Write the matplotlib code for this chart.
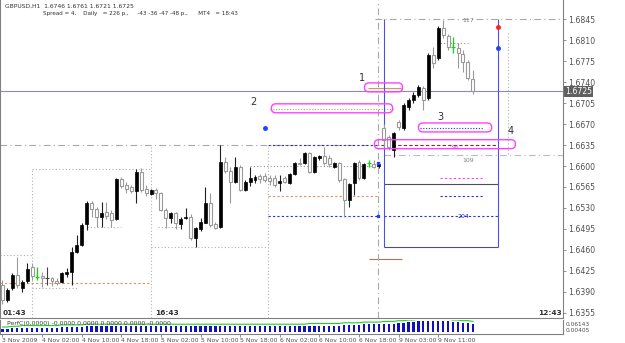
import numpy as np
import matplotlib.pyplot as plt
from matplotlib.patches import FancyBboxPatch
from matplotlib.transforms import IdentityTransform

# GBPUSD H1 bars, 3 Nov 2009 18:00 .. 9 Nov 2009 13:00
opens = [1.6401, 1.6376, 1.6396, 1.6418, 1.6396, 1.6408, 1.6431, 1.6414, 1.6416, 1.6413,
         1.6413, 1.6408, 1.6406, 1.6419, 1.6423, 1.6456, 1.6468, 1.6503, 1.6538, 1.6528,
         1.6515, 1.6523, 1.6521, 1.6511, 1.6578, 1.6568, 1.6565, 1.6558, 1.6590, 1.6562,
         1.6553, 1.6560, 1.6555, 1.6526, 1.6513, 1.6521, 1.6503, 1.6513, 1.6515, 1.6480,
         1.6495, 1.6505, 1.6538, 1.6503, 1.6498, 1.6607, 1.6592, 1.6573, 1.6598, 1.6560,
         1.6573, 1.6577, 1.6583, 1.6583, 1.6580, 1.6580, 1.6572, 1.6580, 1.6572, 1.6587,
         1.6605, 1.6605, 1.6622, 1.6590, 1.6613, 1.6617, 1.6613, 1.6598, 1.6605, 1.6578,
         1.6543, 1.6572, 1.6607, 1.6580, 1.6605, 1.6603, 1.6600, 1.6664, 1.6649, 1.6627,
         1.6674, 1.6664, 1.6699, 1.6710, 1.6719, 1.6730, 1.6714, 1.6786, 1.6781, 1.6831,
         1.6817, 1.6799, 1.6797, 1.6787, 1.6774, 1.6746]
highs = [1.6409, 1.6396, 1.6421, 1.6448, 1.6409, 1.6438, 1.6438, 1.6431, 1.6423, 1.6431,
         1.6414, 1.6413, 1.6423, 1.6430, 1.6465, 1.6485, 1.6505, 1.6542, 1.6542, 1.6532,
         1.6540, 1.6540, 1.6526, 1.6580, 1.6582, 1.6573, 1.6568, 1.6595, 1.6597, 1.6568,
         1.6562, 1.6563, 1.6557, 1.6530, 1.6523, 1.6523, 1.6515, 1.6530, 1.6520, 1.6498,
         1.6513, 1.6565, 1.6555, 1.6506, 1.6635, 1.6615, 1.6598, 1.6615, 1.6602, 1.6577,
         1.6598, 1.6585, 1.6587, 1.6588, 1.6585, 1.6585, 1.6585, 1.6583, 1.6588, 1.6607,
         1.6613, 1.6623, 1.6623, 1.6617, 1.6618, 1.6632, 1.6618, 1.6607, 1.6607, 1.6580,
         1.6572, 1.6607, 1.6610, 1.6605, 1.6610, 1.6610, 1.6607, 1.6670, 1.6652, 1.6657,
         1.6677, 1.6705, 1.6714, 1.6724, 1.6736, 1.6734, 1.6789, 1.6799, 1.6834, 1.6844,
         1.6821, 1.6816, 1.6806, 1.6794, 1.6777, 1.6761]
lows = [1.6369, 1.6373, 1.6393, 1.6396, 1.6389, 1.6404, 1.6409, 1.6409, 1.6398, 1.6401,
        1.6399, 1.6401, 1.6404, 1.6414, 1.6401, 1.6455, 1.6466, 1.6493, 1.6515, 1.6498,
        1.6498, 1.6511, 1.6498, 1.6510, 1.6563, 1.6555, 1.6555, 1.6538, 1.6557, 1.6550,
        1.6552, 1.6545, 1.6525, 1.6496, 1.6505, 1.6495, 1.6495, 1.6511, 1.6476, 1.6465,
        1.6491, 1.6505, 1.6498, 1.6495, 1.6496, 1.6588, 1.6538, 1.6572, 1.6558, 1.6558,
        1.6567, 1.6572, 1.6572, 1.6573, 1.6568, 1.6565, 1.6558, 1.6572, 1.6570, 1.6585,
        1.6602, 1.6603, 1.6588, 1.6588, 1.6610, 1.6602, 1.6598, 1.6597, 1.6573, 1.6515,
        1.6532, 1.6552, 1.6577, 1.6578, 1.6598, 1.6597, 1.6597, 1.6632, 1.6627, 1.6615,
        1.6660, 1.6660, 1.6694, 1.6705, 1.6715, 1.6694, 1.6710, 1.6764, 1.6777, 1.6814,
        1.6794, 1.6789, 1.6764, 1.6757, 1.6744, 1.6721]
closes = [1.6376, 1.6393, 1.6418, 1.6401, 1.6406, 1.6428, 1.6416, 1.6414, 1.6413, 1.6413,
          1.6408, 1.6404, 1.6421, 1.6423, 1.6456, 1.6468, 1.6501, 1.6538, 1.6528, 1.6515,
          1.6521, 1.6516, 1.6510, 1.6578, 1.6567, 1.6562, 1.6558, 1.6590, 1.6560, 1.6555,
          1.6560, 1.6555, 1.6526, 1.6513, 1.6521, 1.6505, 1.6511, 1.6515, 1.6480, 1.6496,
          1.6506, 1.6538, 1.6501, 1.6496, 1.6607, 1.6592, 1.6573, 1.6598, 1.6560, 1.6573,
          1.6580, 1.6582, 1.6578, 1.6577, 1.6575, 1.6568, 1.6575, 1.6573, 1.6587, 1.6605,
          1.6603, 1.6622, 1.6590, 1.6615, 1.6617, 1.6605, 1.6603, 1.6605, 1.6577, 1.6543,
          1.6570, 1.6605, 1.6580, 1.6603, 1.6605, 1.6598, 1.6603, 1.6643, 1.6632, 1.6655,
          1.6665, 1.6702, 1.6710, 1.6719, 1.6732, 1.6710, 1.6786, 1.6772, 1.6831, 1.6819,
          1.6799, 1.6799, 1.6789, 1.6774, 1.6747, 1.6725]
green_bars = [7, 74, 91]

price_ticks = [1.6845, 1.6810, 1.6775, 1.6740, 1.6705, 1.6670, 1.6635, 1.6600,
               1.6565, 1.6530, 1.6495, 1.6460, 1.6425, 1.6390, 1.6355]
last_price = 1.6725

date_bars = [0, 8, 16, 24, 32, 40, 48, 56, 64, 72, 80, 88]
date_labels = ["3 Nov 2009", "4 Nov 02:00", "4 Nov 10:00", "4 Nov 18:00", "5 Nov 02:00",
               "5 Nov 10:00", "5 Nov 18:00", "6 Nov 02:00", "6 Nov 10:00", "6 Nov 18:00",
               "9 Nov 03:00", "9 Nov 11:00"]

# indicator panel histogram (rough)
perf = [0.2, 0.2, 0.25, 0.25, 0.3, 0.3, 0.3, 0.3, 0.3, 0.3, 0.3, 0.3, 0.35, 0.35, 0.35, 0.35,
        0.35, 0.4, 0.4, 0.4, 0.4, 0.4, 0.4, 0.4, 0.4, 0.4, 0.4, 0.4, 0.4, 0.4, 0.4, 0.4,
        0.4, 0.4, 0.4, 0.4, 0.4, 0.4, 0.4, 0.4, 0.4, 0.4, 0.4, 0.4, 0.4, 0.4, 0.4, 0.4,
        0.4, 0.4, 0.4, 0.4, 0.4, 0.4, 0.4, 0.4, 0.4, 0.4, 0.4, 0.4, 0.4, 0.4, 0.45, 0.45,
        0.45, 0.45, 0.45, 0.45, 0.45, 0.5, 0.5, 0.5, 0.5, 0.55, 0.55, 0.55, 0.55, 0.6, 0.6,
        0.6, 0.65, 0.65, 0.7, 0.7, 0.75, 0.8, 0.8, 0.8, 0.8, 0.75, 0.75, 0.7, 0.7, 0.65, 0.65, 0.6]

W, H = 625, 343
fig = plt.figure(figsize=(W / 100, H / 100), dpi=100)
ax = fig.add_axes([0, 1 - 318 / H, 563 / W, 318 / H])
ax.set_xlim(-0.5, 113.2)
ax.set_ylim(1.63459, 1.68776)

o, h, l, c = map(np.array, (opens, highs, lows, closes))
x = np.arange(len(o))
up = c > o
dn = c < o
gr = np.zeros(len(o), bool)
gr[green_bars] = True
flat = (c == o) & ~gr

ax.vlines(x[up], l[up], h[up], color="#202020", lw=0.8, zorder=3)
ax.bar(x[up], c[up] - o[up], bottom=o[up], width=0.6, color="black", edgecolor="black",
       lw=0.5, zorder=4)
ax.vlines(x[dn], l[dn], h[dn], color="#9a9a9a", lw=0.8, zorder=3)
ax.bar(x[dn], o[dn] - c[dn], bottom=c[dn], width=0.6, color="white", edgecolor="#9a9a9a",
       lw=0.8, zorder=4)
ax.vlines(x[flat], l[flat], h[flat], color="#404040", lw=0.8, zorder=3)
ax.hlines(c[flat], x[flat] - 0.35, x[flat] + 0.35, color="#404040", lw=0.8, zorder=4)
ax.vlines(x[gr], l[gr], h[gr], color="#00e000", lw=0.9, zorder=3)
ax.hlines(c[gr], x[gr] - 0.35, x[gr] + 0.35, color="#00e000", lw=0.9, zorder=4)

# level lines: (price, x_from, x_to, colour, style)
dashdot = (0, (6, 3, 1, 3))
dotted = (0, (1, 2))
dashed = (0, (2, 2))
levels = [
    (1.6845, 75.3, 113.2, "#a8a8a8", dashdot),
    (1.6725, -0.5, 113.2, "#8c8cb0", "-"),
    (1.6635, -0.5, 76, "#a8a8a8", dashdot),
    (1.6618, 77, 113.2, "#b8b8d8", dashdot),
    (1.6635, 53.6, 76, "#3030d0", dashed),
    (1.6516, 53.6, 76, "#3030d0", dashed),
    (1.6516, 77, 100, "#3030d0", dashed),
    (1.6550, 53.6, 76, "#e09060", dashed),
    (1.6600, 50, 76, "#909090", dotted),
    (1.6404, -0.5, 30, "#e09060", dashed),
    (1.6445, 74, 80.7, "#c07050", "-"),
    (1.6580, 88.4, 97, "#ff40ff", dashed),
    (1.6550, 88.4, 97, "#3030d0", dashed),
    (1.6730, 73.8, 80.7, "#e09060", "-"),
    (1.6695, 54, 79.3, "#e09060", (0, (1, 1.5))),
    (1.6664, 84.3, 97, "#3030d0", (0, (1, 1.5))),
    (1.6635, 76.5, 100, "#a02020", (0, (3, 2))),
    (1.6570, 77, 100, "#505050", "-"),
    (1.6465, 77, 100, "#505070", "-"),
    # daily range boxes
    (1.6451, -0.5, 6, "#b0b0b0", dotted),
    (1.6595, 6, 30, "#b0b0b0", dotted),
    (1.6396, 6, 15, "#b0b0b0", dotted),
    (1.6498, 17, 24, "#b0b0b0", dotted),
    (1.6498, 31.4, 36, "#b0b0b0", dotted),
    (1.6465, 30, 53.6, "#b0b0b0", dotted),
    (1.6806, 87.8, 94, "#909090", dotted),
]
for p, x0, x1, col, ls in levels:
    ax.hlines(p, x0, x1, color=col, lw=0.8, linestyles=[ls], zorder=2)

# vertical separators: (bar, price_from, price_to, colour, style)
verticals = [
    (6, 1.63459, 1.6595, "#b0b0b0", dotted),
    (30, 1.63459, 1.6635, "#b0b0b0", dotted),
    (53.6, 1.63459, 1.6635, "#b0b0b0", dotted),
    (75.9, 1.63459, 1.68776, "#a8a8a8", dashdot),
    (77, 1.6465, 1.6845, "#5050e0", "-"),
    (100, 1.6465, 1.6845, "#5050e0", "-"),
    (102, 1.6620, 1.6826, "#b0b0b0", dotted),
]
for b, p0, p1, col, ls in verticals:
    ax.vlines(b, p0, p1, color=col, lw=0.8, linestyles=[ls], zorder=2)

# markers
ax.plot([53], [1.6664], "o", color="#2040ff", ms=2.5, zorder=5)
ax.plot([100], [1.6832], "o", color="#ff2020", ms=2.5, zorder=5)
ax.plot([100], [1.6797], "o", color="#2040ff", ms=2.5, zorder=5)
ax.plot([75.9, 75.9], [1.6605, 1.6516], "s", color="#2040ff", ms=2, zorder=5)

# numbered labels and magenta outlines
for s, b, p in [("1", 72.6, 1.6747), ("2", 50.6, 1.6707), ("3", 88.4, 1.6682), ("4", 102.7, 1.6659)]:
    ax.text(b, p, s, fontsize=7, color="#303030", ha="center", va="center")
ax.text(94, 1.6844, "117", fontsize=4.5, color="#808080", ha="center", va="center")
ax.text(94, 1.6610, "109", fontsize=4.5, color="#808080", ha="center", va="center")
ax.text(93, 1.6516, "204", fontsize=4.5, color="#2020c0", ha="center", va="center")
ax.text(91.5, 1.6631, "91", fontsize=4.5, color="#c020c0", ha="center", va="center")

fig.canvas.draw()
outlines = [(72.2, 81.7, 1.6724, 1.6739), (53.4, 79.7, 1.6689, 1.6704),
            (83.1, 99.7, 1.6657, 1.6672), (74.2, 104.5, 1.6629, 1.6644)]
for b0, b1, p0, p1 in outlines:
    (X0, Y0), (X1, Y1) = ax.transData.transform([(b0, p0), (b1, p1)])
    r = (Y1 - Y0) / 2
    fig.patches.append(FancyBboxPatch((X0 + r, Y0), X1 - X0 - 2 * r, Y1 - Y0,
                                      boxstyle=f"round,pad=0,rounding_size={r}",
                                      transform=IdentityTransform(), fill=False,
                                      ec="#ff40ff", lw=1.0, zorder=6))

# right price scale
ax.yaxis.tick_right()
ax.set_yticks(price_ticks)
ax.set_yticklabels([f"{p:.4f}" for p in price_ticks])
ax.tick_params(axis="y", length=2, width=0.6, color="#808080", labelsize=5.6,
               labelcolor="#505050", pad=1.5)
ax.set_xticks([])
ax.spines["top"].set_visible(False)
for side in ["left", "right", "bottom"]:
    ax.spines[side].set_color("#808080")
    ax.spines[side].set_linewidth(0.8)
ax.text(1.003, (last_price - 1.63459) / (1.68776 - 1.63459), f"{last_price:.4f}",
        transform=ax.transAxes, fontsize=5.6, color="white", va="center", ha="left",
        bbox=dict(boxstyle="square,pad=0.15", fc="#606060", ec="none"))

# header
fig.text(5 / W, 1 - 6 / H, "GBPUSD,H1  1.6746 1.6761 1.6721 1.6725", fontsize=4.3,
         color="#303030", va="center")
fig.text(43 / W, 1 - 14 / H,
         "Spread = 4,    Daily   = 226 p.,     -43 -36 -47 -48 p.,      MT4   = 18:43",
         fontsize=4.1, color="#303030", va="center")
for s, px in [("01:43", 3), ("16:43", 155), ("12:43", 538)]:
    fig.text(px / W, 1 - 313 / H, s, fontsize=5.3, color="#303030", va="center",
             fontweight="bold")

# indicator panel
pax = fig.add_axes([0, 1 - 334 / H, 563 / W, 14 / H])
pax.set_xlim(-0.5, 113.2)
pax.set_ylim(0, 1)
pax.bar(x, perf, bottom=0.15, width=0.45, color="#1010c0")
pax.plot(x, np.array(perf) + 0.3, color="#20d020", lw=0.8)
pax.text(1, 0.72, "PerfC(0,0000) -0.0000 0.0000 0.0000 0.0000 -0.0000", fontsize=4.5,
         color="#404040", va="center")
pax.set_yticks([])
pax.set_xticks(date_bars)
pax.set_xticklabels(date_labels, ha="left")
pax.tick_params(axis="x", length=2, width=0.6, color="#808080", labelsize=4.4,
                labelcolor="#505050", pad=1)
for side in pax.spines.values():
    side.set_color("#808080")
    side.set_linewidth(0.8)
pax.spines["top"].set_visible(False)
fig.text(566 / W, 1 - 324 / H, "0.06143", fontsize=4.2, color="#505050", va="center")
fig.text(566 / W, 1 - 330 / H, "0.00405", fontsize=4.2, color="#505050", va="center")

fig.savefig("out.png", dpi=100)
